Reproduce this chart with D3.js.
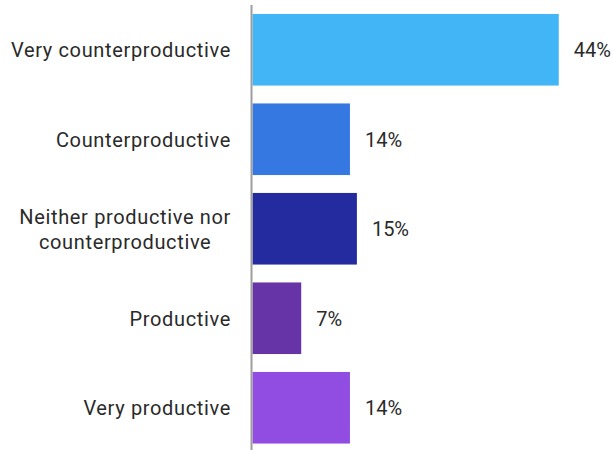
<!DOCTYPE html>
<html>
<head>
<meta charset="utf-8">
<script src="https://cdn.jsdelivr.net/npm/d3@7"></script>
<style>
  html, body { margin: 0; padding: 0; background: #fff; }
  svg { display: block; }
  text { font-family: Roboto, "Noto Sans", sans-serif; fill: #2a2a2a; }
</style>
</head>
<body>
<script>
// Survey answers, top to bottom
const categories = [
  "Very counterproductive",
  "Counterproductive",
  "Neither productive nor counterproductive",
  "Productive",
  "Very productive"
];
// Label lines for each category (long answers wrap)
const labelLines = [
  ["Very counterproductive"],
  ["Counterproductive"],
  ["Neither productive nor", "counterproductive"],
  ["Productive"],
  ["Very productive"]
];
// Share of respondents, percent
const values = [44, 14, 15, 7, 14];
const barColors = ["#41b5f5", "#3578e2", "#242b9f", "#6734a8", "#914de1"];

const W = 613, H = 450;
const x0 = 252.5;

const svg = d3.select("body").append("svg")
  .attr("width", W).attr("height", H);

const x = d3.scaleLinear().domain([0, 50]).range([x0, x0 + 348]);
const y = d3.scaleBand().domain(categories)
  .range([5, 452.5]).paddingInner(0.2).paddingOuter(0.1);

// bars
svg.append("g").selectAll("rect")
  .data(categories)
  .join("rect")
  .attr("x", x(0))
  .attr("y", d => y(d))
  .attr("width", (d, i) => x(values[i]) - x(0))
  .attr("height", y.bandwidth())
  .attr("fill", (d, i) => barColors[i]);

// vertical baseline
svg.append("line")
  .attr("x1", x0 - 1).attr("x2", x0 - 1)
  .attr("y1", 5).attr("y2", H + 5)
  .attr("stroke", "#9e9e9e").attr("stroke-width", 2);

// value labels
svg.append("g").selectAll("text")
  .data(categories)
  .join("text")
  .attr("x", (d, i) => x(values[i]) + 15)
  .attr("y", d => y(d) + y.bandwidth() / 2)
  .attr("dy", "0.38em")
  .attr("font-size", 20)
  .text((d, i) => values[i] + "%");

// category labels: block right-aligned, lines centred within the block
const labelRight = 231;
const lineH = 25;
const cats = svg.append("g");
categories.forEach((c, i) => {
  const lines = labelLines[i];
  const cy = y(c) + y.bandwidth() / 2;
  const t = cats.append("text")
    .attr("font-size", 20)
    .attr("letter-spacing", 0.65)
    .attr("text-anchor", "middle");
  const spans = lines.map((ln, j) => t.append("tspan")
    .attr("y", cy + (j - (lines.length - 1) / 2) * lineH)
    .attr("dy", "0.38em")
    .text(ln));
  const widths = spans.map(s => s.node().getComputedTextLength());
  const maxW = d3.max(widths);
  spans.forEach(s => s.attr("x", labelRight - maxW / 2));
});
</script>
</body>
</html>
